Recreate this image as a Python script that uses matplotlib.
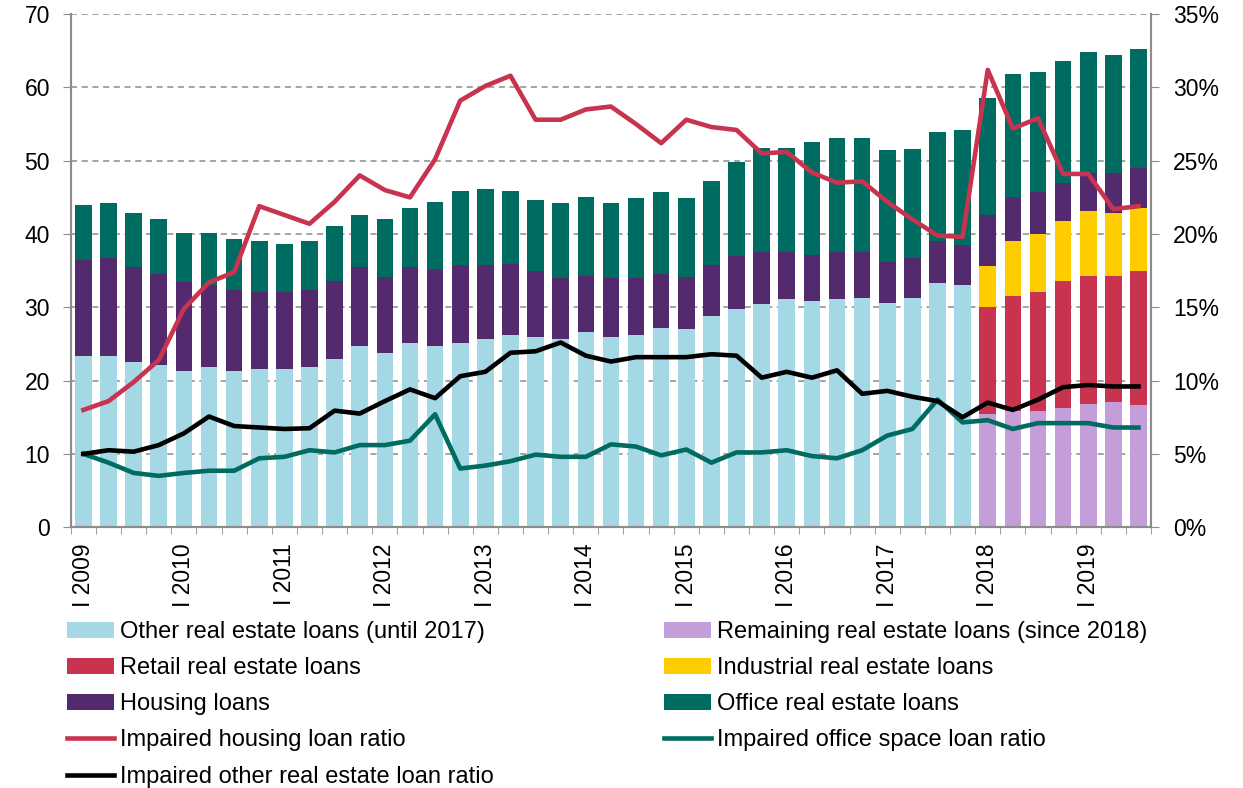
import matplotlib
matplotlib.use("Agg")
import matplotlib.pyplot as plt
import numpy as np

plt.rcParams['font.family'] = ['Liberation Sans', 'DejaVu Sans']

years = list(range(2009, 2020))
# quarterly stock of loans, 2009 Q1 - 2017 Q4 (bn)
other = [23.4, 23.4, 22.6, 22.1, 21.3, 21.8, 21.3, 21.6, 21.6, 21.8, 22.9, 24.7,
         23.7, 25.1, 24.7, 25.1, 25.7, 26.2, 25.9, 25.7, 26.7, 25.9, 26.2, 27.2,
         27.0, 28.8, 29.8, 30.5, 31.1, 30.8, 31.1, 31.3, 30.6, 31.3, 33.3, 33.1]
# 2018 Q1 - 2019 Q3
remaining = [15.5, 15.9, 15.9, 16.2, 16.8, 17.1, 16.7]
retail = [14.5, 15.7, 16.2, 17.4, 17.5, 17.2, 18.2]
industrial = [5.7, 7.4, 7.9, 8.2, 8.8, 8.6, 8.7]
# 2009 Q1 - 2019 Q3
housing = [13.0, 13.3, 12.9, 12.5, 12.1, 11.3, 11.0, 10.5, 10.5, 10.5, 10.7, 10.8,
           10.5, 10.4, 10.5, 10.7, 10.1, 9.7, 9.0, 8.3, 7.6, 8.1, 7.8, 7.4,
           7.2, 7.0, 7.2, 7.0, 6.4, 6.4, 6.4, 6.2, 5.6, 5.4, 5.7, 5.4,
           6.9, 6.1, 5.7, 5.2, 5.2, 5.4, 5.4]
office = [7.5, 7.5, 7.4, 7.5, 6.7, 7.0, 7.0, 6.9, 6.6, 6.7, 7.5, 7.1,
          7.9, 8.1, 9.2, 10.1, 10.4, 10.0, 9.8, 10.2, 10.8, 10.2, 10.9, 11.1,
          10.7, 11.4, 12.8, 14.3, 14.3, 15.4, 15.6, 15.6, 15.2, 14.9, 14.9, 15.7,
          15.9, 16.7, 16.4, 16.6, 16.6, 16.1, 16.2]
# impaired loan ratios (%)
imp_housing = [8.0, 8.6, 9.9, 11.4, 14.9, 16.7, 17.4, 21.9, 21.3, 20.7, 22.2, 24.0,
               23.0, 22.5, 25.1, 29.1, 30.1, 30.8, 27.8, 27.8, 28.5, 28.7, 27.5, 26.2,
               27.8, 27.3, 27.1, 25.5, 25.6, 24.2, 23.5, 23.6, 22.2, 21.0, 19.9, 19.8,
               31.2, 27.2, 27.9, 24.1, 24.1, 21.7, 21.9]
imp_office = [5.0, 4.4, 3.7, 3.5, 3.7, 3.85, 3.85, 4.7, 4.8, 5.25, 5.1, 5.6,
              5.6, 5.9, 7.7, 4.0, 4.2, 4.5, 4.95, 4.8, 4.8, 5.65, 5.5, 4.9,
              5.3, 4.4, 5.1, 5.1, 5.25, 4.85, 4.7, 5.25, 6.25, 6.7, 8.7, 7.15,
              7.3, 6.7, 7.1, 7.1, 7.1, 6.8, 6.8]
imp_other = [5.0, 5.25, 5.15, 5.6, 6.4, 7.55, 6.9, 6.8, 6.7, 6.75, 7.95, 7.75,
             8.6, 9.4, 8.8, 10.3, 10.6, 11.9, 12.0, 12.6, 11.7, 11.3, 11.6, 11.6,
             11.6, 11.8, 11.7, 10.2, 10.6, 10.2, 10.7, 9.1, 9.3, 8.9, 8.6, 7.5,
             8.5, 8.0, 8.7, 9.55, 9.7, 9.6, 9.6]

c_other = '#a5d8e5'
c_rem = '#c39ed8'
c_retail = '#c8334f'
c_ind = '#ffcc00'
c_house = '#532a6e'
c_office = '#006b61'

n_old = len(other)
n = len(housing)
x = np.arange(n)
x_old = x[:n_old]
x_new = x[n_old:]
w = 0.66

fig = plt.figure(figsize=(12.43, 7.88), dpi=100)
ax = fig.add_axes([0.057, 0.331, 0.869, 0.651])

b_other = ax.bar(x_old, other, w, color=c_other, label='Other real estate loans (until 2017)')
b_rem = ax.bar(x_new, remaining, w, color=c_rem, label='Remaining real estate loans (since 2018)')
bot = np.array(remaining)
b_ret = ax.bar(x_new, retail, w, bottom=bot, color=c_retail, label='Retail real estate loans')
bot = bot + np.array(retail)
b_ind = ax.bar(x_new, industrial, w, bottom=bot, color=c_ind, label='Industrial real estate loans')
bot = bot + np.array(industrial)
base = np.concatenate([np.array(other), bot])
b_house = ax.bar(x, housing, w, bottom=base, color=c_house, label='Housing loans')
base = base + np.array(housing)
b_off = ax.bar(x, office, w, bottom=base, color=c_office, label='Office real estate loans')

ax.set_xlim(-0.5, n - 0.5)
ax.set_ylim(0, 70)
ax.set_yticks(range(0, 71, 10))
ax.set_axisbelow(True)
ax.yaxis.grid(True, linestyle=(0, (4, 3)), color='#8c8c8c', linewidth=1.1)

ax2 = ax.twinx()
l1, = ax2.plot(x, imp_housing, color=c_retail, lw=3.3, label='Impaired housing loan ratio')
l2, = ax2.plot(x, imp_office, color=c_office, lw=3.3, label='Impaired office space loan ratio')
l3, = ax2.plot(x, imp_other, color='black', lw=3.3, label='Impaired other real estate loan ratio')
ax2.set_ylim(0, 35)
ax2.set_yticks(range(0, 36, 5))
ax2.set_yticklabels([f'{v}%' for v in range(0, 36, 5)])

q1 = [i * 4 for i in range(len(years))]
ax.set_xticks(q1)
ax.set_xticklabels([f'I {y}' for y in years], rotation=90, fontsize=16.5)
ax.set_xticks(np.arange(-0.5, n, 1), minor=True)
ax.tick_params(axis='x', which='major', length=0, pad=11.5)
ax.tick_params(axis='x', which='minor', length=5, color='#8c8c8c', direction='out')
ax.tick_params(axis='y', labelsize=16.5, length=6, color='#8c8c8c', pad=9)
ax2.tick_params(axis='y', labelsize=16.5, length=6, color='#8c8c8c', pad=10)

for a in (ax, ax2):
    a.spines['top'].set_visible(False)
    for s in ('left', 'right', 'bottom'):
        a.spines[s].set_color('#8c8c8c')
        a.spines[s].set_linewidth(1.5)

handles = [b_other, b_ret, b_house, l1, l3, b_rem, b_ind, b_off, l2]
labels = [h.get_label() for h in handles]
fig.legend(handles, labels, loc='upper left', bbox_to_anchor=(0.054, 0.212), ncol=2,
           frameon=False, fontsize=17, handlelength=2.0, handleheight=0.65,
           handletextpad=0.25, labelspacing=0.6, columnspacing=7.2,
           borderaxespad=0, borderpad=0)

fig.savefig('out.png', dpi=100)
